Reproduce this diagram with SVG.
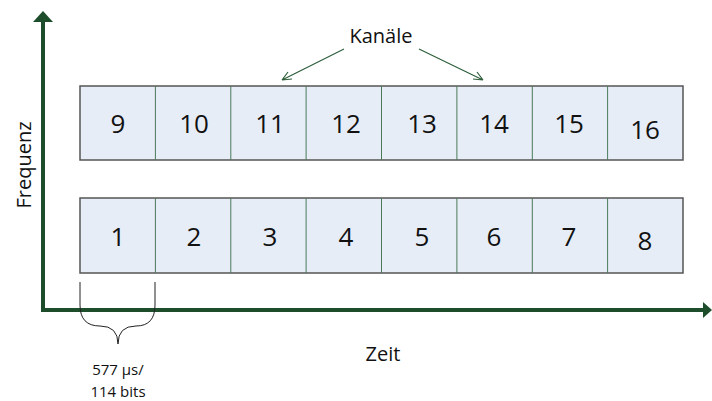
<svg xmlns="http://www.w3.org/2000/svg" width="712" height="401" viewBox="0 0 712 401">
<style>
.cell{fill:#e7edf7;stroke:#555;stroke-width:1.5}
.div{stroke:#4a7a5a;stroke-width:1}
.num{font-family:"Open Sans","Liberation Sans",sans-serif;font-size:26px;fill:#111;text-anchor:middle}
.lbl{font-family:"Open Sans","Liberation Sans",sans-serif;font-size:20px;fill:#111;text-anchor:middle}
.sm{font-family:"Open Sans","Liberation Sans",sans-serif;font-size:15px;fill:#111;text-anchor:middle}
.axis{stroke:#1e4d2b;stroke-width:4;fill:none}
.thin{stroke:#2e5e3a;stroke-width:1.2;fill:none}
</style>
<rect width="712" height="401" fill="#fff"/>
<g id="axes">
<polyline class="axis" points="43,20 43,310 705,310"/>
<polygon points="43,11 33,22 53,22" fill="#1e4d2b"/>
<polygon points="712,310 703,302 703,318" fill="#1e4d2b"/>
</g>
<g id="row-top">
<rect class="cell" x="80" y="86" width="603" height="74"/>
<g class="div">
<line x1="155.4" y1="86" x2="155.4" y2="160"/><line x1="230.8" y1="86" x2="230.8" y2="160"/>
<line x1="306.1" y1="86" x2="306.1" y2="160"/><line x1="381.5" y1="86" x2="381.5" y2="160"/>
<line x1="456.9" y1="86" x2="456.9" y2="160"/><line x1="532.3" y1="86" x2="532.3" y2="160"/>
<line x1="607.6" y1="86" x2="607.6" y2="160"/>
</g>
<text class="num" x="118" y="133">9</text><text class="num" x="194" y="133">10</text>
<text class="num" x="270" y="133">11</text><text class="num" x="346" y="133">12</text>
<text class="num" x="422" y="133">13</text><text class="num" x="494" y="133">14</text>
<text class="num" x="569" y="133">15</text><text class="num" x="645" y="139">16</text>
</g>
<g id="row-bottom">
<rect class="cell" x="80" y="198" width="603" height="75"/>
<g class="div">
<line x1="155.4" y1="198" x2="155.4" y2="273"/><line x1="230.8" y1="198" x2="230.8" y2="273"/>
<line x1="306.1" y1="198" x2="306.1" y2="273"/><line x1="381.5" y1="198" x2="381.5" y2="273"/>
<line x1="456.9" y1="198" x2="456.9" y2="273"/><line x1="532.3" y1="198" x2="532.3" y2="273"/>
<line x1="607.6" y1="198" x2="607.6" y2="273"/>
</g>
<text class="num" x="118" y="246">1</text><text class="num" x="194" y="246">2</text>
<text class="num" x="270" y="246">3</text><text class="num" x="346" y="246">4</text>
<text class="num" x="422" y="246">5</text><text class="num" x="494" y="246">6</text>
<text class="num" x="569" y="246">7</text><text class="num" x="645" y="250">8</text>
</g>
<g id="connectors">
<path class="thin" d="M344,49 L282,80 M282,80 l10,-1 M282,80 l6,-8"/>
<path class="thin" d="M419,49 L483,80 M483,80 l-10,-1 M483,80 l-6,-8"/>
<path fill="none" stroke="#222" stroke-width="1" d="M80,282 V305 Q80,326 100,326 Q118,326 118,344 Q118,326 136,326 Q155,326 155,305 V282"/>
</g>
<g id="labels">
<text class="lbl" x="381" y="43">Kanäle</text>
<text class="lbl" x="383" y="361">Zeit</text>
<text class="lbl" transform="translate(31,165) rotate(-90)">Frequenz</text>
<text class="sm" x="118" y="375">577 µs/</text>
<text class="sm" x="118" y="397">114 bits</text>
</g>
</svg>
